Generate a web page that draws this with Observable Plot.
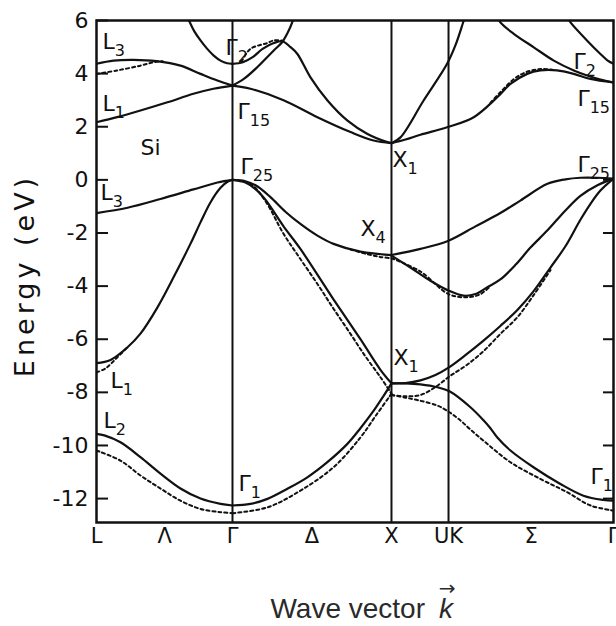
<!DOCTYPE html>
<html><head><meta charset="utf-8">
<script src="https://cdn.jsdelivr.net/npm/d3@7"></script>
<script src="https://cdn.jsdelivr.net/npm/@observablehq/plot@0.6"></script>
<style>body{margin:0;background:#fff;} #chart svg{display:block;}</style>
</head><body><div id="chart"></div>
<script>
// symmetry points (k in units of 2π/a)
const kL = 0, kG = 0.863, kX = 1.872, kU = 2.234, kEnd = 3.281;
const symLines = [kG, kX, kU];
const xTickPos = [0, 0.432, 0.863, 1.368, 1.872, 2.234, 2.758, 3.281];
const xTickLabels = ["L", "Λ", "Γ", "Δ", "X", "UK", "Σ", "Γ"];
const yTicks = [-12, -10, -8, -6, -4, -2, 0, 2, 4, 6];
const yTicksRight = [-12, -10, -8, -6, -4, -2, 0];

// ---- L–Γ (solid) ----
const s1_LG = [[0,-9.56],[0.05,-9.62],[0.152,-9.88],[0.279,-10.44],[0.406,-11.06],[0.533,-11.62],[0.660,-12.0],[0.787,-12.2],[0.863,-12.26]];
const s2_LG = [[0,-6.9],[0.089,-6.78],[0.197,-6.3],[0.279,-5.79],[0.387,-4.8],[0.489,-3.67],[0.596,-2.41],[0.660,-1.6],[0.723,-0.85],[0.787,-0.3],[0.831,-0.07],[0.863,0]];
const s3_LG = [[0,-1.25],[0.197,-1.05],[0.406,-0.72],[0.615,-0.36],[0.768,-0.1],[0.863,0]];
const s5_LG = [[0,2.17],[0.131,2.36],[0.279,2.61],[0.450,2.92],[0.615,3.24],[0.742,3.43],[0.863,3.55]];
const s6_LG = [[0,4.37],[0.108,4.49],[0.235,4.52],[0.381,4.47],[0.533,4.3],[0.660,3.99],[0.767,3.74],[0.863,3.55]];
const s7_LG = [[0.575,6.1],[0.586,6.0],[0.62,5.6],[0.660,5.25],[0.70,4.95],[0.744,4.68],[0.79,4.48],[0.829,4.39],[0.863,4.37]];
// ---- L–Γ (dashed) ----
const d1_LG = [[0,-10.19],[0.152,-10.57],[0.279,-11.13],[0.406,-11.62],[0.533,-12.08],[0.660,-12.39],[0.787,-12.51],[0.863,-12.55]];
const d2_LG = [[0,-7.25],[0.057,-7.1],[0.121,-6.75],[0.197,-6.3]];
const d6_LG = [[0,3.99],[0.131,4.12],[0.279,4.3],[0.362,4.43],[0.42,4.47]];

// ---- Γ–X (solid) ----
const s1_GX = [[0.863,-12.26],[0.977,-12.2],[1.085,-12.01],[1.212,-11.63],[1.338,-11.2],[1.465,-10.63],[1.592,-9.94],[1.675,-9.35],[1.758,-8.7],[1.82,-8.15],[1.872,-7.66]];
const s2_GX = [[0.863,0],[0.945,-0.1],[1.009,-0.35],[1.072,-0.75],[1.187,-1.75],[1.294,-2.6],[1.504,-4.5],[1.675,-6.0],[1.802,-7.15],[1.872,-7.66]];
const s3_GX = [[0.863,0],[0.945,-0.05],[1.022,-0.25],[1.104,-0.65],[1.199,-1.2],[1.294,-1.66],[1.402,-2.1],[1.504,-2.41],[1.675,-2.7],[1.872,-2.83]];
const s5_GX = [[0.863,3.55],[0.977,3.43],[1.187,3.0],[1.402,2.36],[1.612,1.8],[1.758,1.48],[1.872,1.38]];
const s6_GX = [[0.863,3.55],[0.935,3.8],[1.02,4.24],[1.125,4.87],[1.178,5.18],[1.21,5.5],[1.242,5.93],[1.25,6.1]];
const s7_GX = [[0.863,4.37],[0.929,4.43],[0.991,4.62],[1.054,4.93],[1.125,5.15],[1.18,5.22],[1.231,5.0],[1.275,4.74],[1.358,3.86],[1.466,2.99],[1.593,2.23],[1.720,1.73],[1.846,1.42],[1.872,1.38]];
// ---- Γ–X (dashed) ----
const d1_GX = [[0.863,-12.55],[1.085,-12.33],[1.294,-11.7],[1.504,-10.82],[1.675,-9.7],[1.770,-8.9],[1.872,-8.05]];
const d2_GX = [[0.863,0],[0.977,-0.15],[1.072,-0.8],[1.187,-2.03],[1.294,-2.98],[1.402,-3.92],[1.504,-4.85],[1.612,-5.8],[1.707,-6.65],[1.802,-7.43],[1.872,-8.05]];
const d3_GX = [[1.612,-2.62],[1.72,-2.8],[1.80,-2.9],[1.872,-2.95]];
const d7_GX = [[0.92,4.45],[0.977,4.93],[1.083,5.15],[1.125,5.25],[1.18,5.24]];

// ---- X–U / K–Γ (solid) ----
const s1_XG = [[1.872,-7.66],[1.961,-7.66],[2.056,-7.7],[2.164,-7.81],[2.240,-7.96],[2.373,-8.56],[2.456,-9.05],[2.500,-9.35],[2.544,-9.7],[2.627,-10.19],[2.773,-10.82],[2.944,-11.45],[3.090,-11.89],[3.217,-12.05],[3.281,-12.08]];
const s2_XG = [[1.872,-7.66],[1.961,-7.65],[2.056,-7.55],[2.151,-7.35],[2.234,-7.07],[2.341,-6.6],[2.456,-6.05],[2.563,-5.5],[2.671,-4.9],[2.773,-4.2],[2.881,-3.3],[2.976,-2.5],[3.071,-1.5],[3.135,-0.9],[3.198,-0.4],[3.281,0.05]];
const s3_XG = [[1.872,-2.85],[1.992,-3.3],[2.119,-3.8],[2.234,-4.17],[2.329,-4.36],[2.405,-4.3],[2.481,-4.04],[2.563,-3.75],[2.659,-3.2],[2.754,-2.55],[2.862,-1.9],[2.976,-1.15],[3.071,-0.6],[3.179,-0.2],[3.281,0.05]];
const s4_XG = [[1.872,-2.83],[2.056,-2.6],[2.234,-2.29],[2.405,-1.75],[2.563,-1.25],[2.690,-0.78],[2.862,-0.15],[2.976,0.02],[3.071,0.08],[3.179,0.08],[3.281,0.05]];
const s5_XG = [[1.872,1.38],[1.961,1.52],[2.056,1.7],[2.225,1.98],[2.394,2.36],[2.543,3.11],[2.627,3.61],[2.733,3.99],[2.817,4.12],[2.923,4.12],[3.029,3.99],[3.135,3.8],[3.281,3.67]];
const s6_XG = [[1.872,1.38],[1.929,1.6],[2.075,2.98],[2.225,4.37],[2.28,5.1],[2.331,6.0],[2.34,6.15]];
const s8_XG = [[2.55,6.1],[2.563,5.93],[2.648,5.5],[2.775,4.99],[2.902,4.49],[3.029,4.12],[3.114,3.93],[3.198,3.78],[3.281,3.67]];
const s9_XG = [[2.99,6.1],[3.008,5.93],[3.114,5.24],[3.198,4.74],[3.242,4.5],[3.281,4.37]];
// ---- X–U / K–Γ (dashed) ----
const d1_XG = [[1.872,-8.1],[1.961,-8.2],[2.043,-8.3],[2.164,-8.5],[2.240,-8.75],[2.310,-9.06],[2.373,-9.4],[2.456,-9.82],[2.627,-10.63],[2.817,-11.26],[2.987,-11.76],[3.135,-12.26],[3.281,-12.45]];
const d2_XG = [[1.872,-8.1],[1.961,-8.15],[2.056,-8.1],[2.151,-7.8],[2.240,-7.4],[2.354,-6.95],[2.456,-6.45],[2.563,-5.8],[2.671,-5.17],[2.773,-4.35],[2.881,-3.4]];
const d3_XG = [[1.872,-2.95],[2.056,-3.45],[2.234,-4.3],[2.354,-4.42],[2.437,-4.3],[2.50,-4.0]];
const d5_XG = [[2.50,2.9],[2.563,3.3],[2.65,3.8],[2.733,4.07],[2.82,4.17],[2.90,4.14]];

const solidBands = [s1_LG, s2_LG, s3_LG, s5_LG, s6_LG, s7_LG, s1_GX, s2_GX, s3_GX, s5_GX, s6_GX, s7_GX, s1_XG, s2_XG, s3_XG, s4_XG, s5_XG, s6_XG, s8_XG, s9_XG];
const dashedBands = [d1_LG, d2_LG, d6_LG, d1_GX, d2_GX, d3_GX, d7_GX, d1_XG, d2_XG, d3_XG, d5_XG];

// point labels
const labelNames = ["L","L","Si","L","L","L","Γ","Γ","Γ","X","X","X","Γ","Γ","Γ","Γ","Γ"];
const labelSubs  = ["3","1","","3","1","2","2","15","25","1","4","1","1","2","15","25","1"];
const labelK     = [0.038,0.038,0.279,0.025,0.089,0.044,0.819,0.895,0.914,1.878,1.675,1.885,0.901,3.027,3.052,3.052,3.135];
const labelE     = [5.21,2.84,1.2,-0.48,-7.56,-9.06,4.95,2.57,0.5,0.76,-1.83,-6.7,-11.43,4.45,3.06,0.58,-11.2];
const labels = labelNames.map((n, i) => ({name: n, sub: labelSubs[i], k: labelK[i], E: labelE[i]}));

const ink = "#111";
const lineOpts = {x: d => d[0], y: d => d[1], curve: "catmull-rom", stroke: ink, strokeWidth: 2.2, clip: true};

const chart = Plot.plot({
  width: 616, height: 626,
  marginLeft: 96, marginRight: 3, marginTop: 20, marginBottom: 104,
  x: {domain: [kL, kEnd]},
  y: {domain: [-12.9, 6]},
  style: {fontFamily: "'DejaVu Sans', sans-serif", fontSize: "22px", color: ink, background: "#fff"},
  marks: [
    ...dashedBands.map(b => Plot.line(b, {...lineOpts, strokeWidth: 2, strokeDasharray: "3,3"})),
    ...solidBands.map(b => Plot.line(b, lineOpts)),
    Plot.ruleX(symLines, {stroke: ink, strokeWidth: 2}),
    Plot.ruleY(yTicks, {x1: kL, x2: kL, insetRight: -12, stroke: ink, strokeWidth: 2}),
    Plot.ruleY(yTicksRight, {x1: kEnd, x2: kEnd, insetLeft: -10, stroke: ink, strokeWidth: 2}),
    Plot.frame({stroke: ink, strokeWidth: 2.5}),
    Plot.axisY(yTicks, {tickSize: 0, tickPadding: 8, tickFormat: d => String(d), fontSize: 22, label: null, fill: ink}),
    Plot.axisX(xTickPos, {tickSize: 0, tickPadding: 6, tickFormat: d => xTickLabels[xTickPos.indexOf(d)], fontSize: 21, label: null, fill: ink}),
    Plot.text(labels, {x: "k", y: "E", text: d => d.sub ? d.name + "_" + d.sub : d.name, textAnchor: "start", fontSize: 22, fill: ink}),
    Plot.text(["Energy (eV)"], {frameAnchor: "left", text: d => d, textAnchor: "middle", rotate: -90, dx: -71, dy: 4, fontSize: 27, fill: ink}),
    Plot.text(["Wave vector"], {frameAnchor: "bottom", text: d => d, textAnchor: "end", lineAnchor: "bottom", dx: 70, dy: 95, fontSize: 28, fontFamily: "'Liberation Sans', Arial, sans-serif", fill: "#2a2a2a"}),
    Plot.text(["k"], {frameAnchor: "bottom", text: d => d, textAnchor: "start", lineAnchor: "bottom", dx: 84, dy: 95, fontSize: 28, fontStyle: "italic", fontFamily: "'Liberation Sans', Arial, sans-serif", fill: "#2a2a2a"}),
    Plot.text(["→"], {frameAnchor: "bottom", text: d => d, textAnchor: "middle", dx: 92, dy: 72, fontSize: 20, fill: "#2a2a2a"})
  ]
});

// render subscripts as smaller, lowered tspans
chart.querySelectorAll("text").forEach(t => {
  const s = t.textContent;
  if (s.includes("_")) {
    const parts = s.split("_");
    t.textContent = parts[0];
    const ts = document.createElementNS("http://www.w3.org/2000/svg", "tspan");
    ts.setAttribute("font-size", "16");
    ts.setAttribute("dy", "7");
    ts.textContent = parts[1];
    t.appendChild(ts);
  } else if (s === "Energy (eV)") {
    t.setAttribute("letter-spacing", "4");
  }
});

document.getElementById("chart").appendChild(chart);
</script>
</body></html>
